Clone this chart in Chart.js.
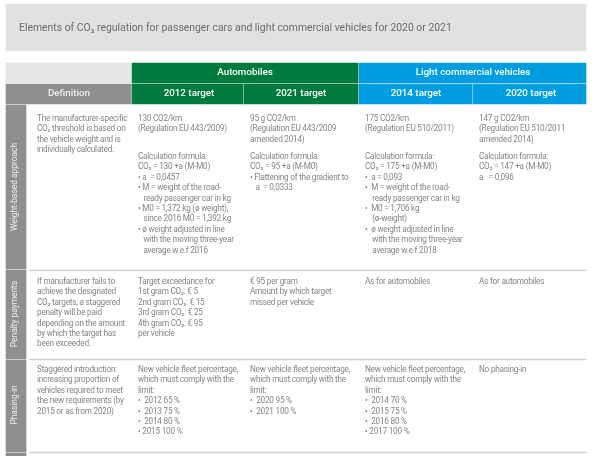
<!DOCTYPE html>
<html>
<head>
<meta charset="utf-8">
<title>Elements of CO2 regulation</title>
<script src="https://cdn.jsdelivr.net/npm/chart.js@4"></script>
<style>
    html, body { margin: 0; padding: 0; background: #fff; overflow: hidden; }
    #table { display: block; width: 600px; height: 456px; }
</style>
</head>
<body>
<canvas id="table" width="600" height="456"></canvas>
<script>
const title = 'Elements of CO₂ regulation for passenger cars and light commercial vehicles for 2020 or 2021';
const groups = ['Automobiles', 'Light commercial vehicles'];
const targets = ['2012 target', '2021 target', '2014 target', '2020 target'];
const firstHeader = 'Definition';
const rowLabels = ['Weight-based approach', 'Penalty payments', 'Phasing-in'];

const definitions = [
    ['The manufacturer-specific', 'CO₂ threshold is based on', 'the vehicle weight and is', 'individually calculated.'],
    ['If manufacturer fails to', 'achieve the designated', 'CO₂ targets, a staggered', 'penalty will be paid', 'depending on the amount', 'by which the target has', 'been exceeded.'],
    ['Staggered introduction:', 'increasing proportion of', 'vehicles required to meet', 'the new requirements (by', '2015 or as from 2020)']
];
const regulations = [
    ['130 CO2/km', '(Regulation EU 443/2009)'],
    ['95 g CO2/km', '(Regulation EU 443/2009', 'amended 2014)'],
    ['175 CO2/km', '(Regulation EU 510/2011)'],
    ['147 g CO2/km', '(Regulation EU 510/2011', 'amended 2014)']
];
const formulas = [
    ['Calculation formula:', 'CO₂ = 130 +a (M-M0)', '• a  = 0,0457', '• M = weight of the road-', '   ready passenger car in kg', '• M0 = 1,372 kg (ø weight),', '   since 2016 M0 = 1,392 kg', '• ø weight adjusted in line', '   with the moving three-year', '   average w.e.f 2016'],
    ['Calculation formula:', 'CO₂ = 95 +a (M-M0)', '• Flattening of the gradient to', '   a  = 0,0333'],
    ['Calculation formula:', 'CO₂ = 175 +a (M-M0)', '•  a = 0,093', '•  M = weight of the road-', '    ready passenger car in kg', '•  M0 = 1,706 kg', '    (ø-weight)', '•  ø weight adjusted in line', '    with the moving three-year', '    average w.e.f 2018'],
    ['Calculation formula:', 'CO₂ = 147 +a (M-M0)', 'a   = 0,096']
];
const penalties = [
    ['Target exceedance for', '1st gram CO₂: € 5', '2nd gram CO₂: € 15', '3rd gram CO₂: € 25', '4th gram CO₂: € 95', 'per vehicle'],
    ['€ 95 per gram', 'Amount by which target', 'missed per vehicle'],
    ['As for automobiles'],
    ['As for automobiles']
];
const phasing = [
    ['New vehicle fleet percentage,', 'which must comply with the', 'limit:', '•  2012 65 %', '•  2013 75 %', '•  2014 80 %', '• 2015 100 %'],
    ['New vehicle fleet percentage,', 'which must comply with the', 'limit:', '•  2020 95 %', '•  2021 100 %'],
    ['New vehicle fleet percentage,', 'which must comply with the', 'limit:', '•  2014 70 %', '•  2015 75 %', '•  2016 80 %', '• 2017 100 %'],
    ['No phasing-in']
];

const GREEN = '#007a3d', BLUE = '#009ee0', GREY = '#8f8f8f', PALE = '#e1e1e1', RULE = '#cfcfcf';
const FONT = 'Roboto, "Liberation Sans", sans-serif';
const columnX = [138, 250, 365, 479];
const lineStep = 10.4;

// rectangles of the layout: [left, right, top, bottom, colour]
const cells = [
    [6, 586, 4, 51, PALE],
    [6, 131, 63, 83, '#e6e6e6'],
    [132, 358, 63, 83, GREEN],
    [359, 586, 63, 83, BLUE],
    [6, 131, 84, 104, GREY],
    [132, 243, 84, 104, GREEN],
    [244, 358, 84, 104, GREEN],
    [359, 472, 84, 104, BLUE],
    [473, 586, 84, 104, BLUE],
    [6, 26, 105, 269, GREY],
    [6, 26, 270, 359, GREY],
    [6, 26, 360, 452, GREY],
    [6, 26, 453, 457, GREY],
    [30, 586, 270, 271, RULE],
    [30, 586, 359, 360, RULE],
    [30, 586, 452, 453, RULE]
];

const textPlugin = {
    id: 'tableText',
    afterDatasetsDraw(chart) {
        const { ctx, scales } = chart;
        const px = v => scales.x.getPixelForValue(v);
        const py = v => scales.y.getPixelForValue(v);

        function put(text, x, y, font, color, align, spacing) {
            ctx.font = font + ' ' + FONT;
            ctx.letterSpacing = spacing || '0px';
            ctx.fillStyle = color;
            ctx.textAlign = align || 'left';
            ctx.textBaseline = 'middle';
            ctx.fillText(text, px(x), py(y));
        }
        function block(lines, x, y) {
            lines.forEach((line, i) => put(line, x, y + i * lineStep, '8.2px', '#858585', 'left', '-0.22px'));
        }

        ctx.save();
        put(title, 19, 28, '10.4px', '#6b6b6b');

        const head = '500 9.8px';
        put(groups[0], 245, 73, head, '#ffffff', 'center');
        put(groups[1], 473, 73, head, '#ffffff', 'center');
        put(firstHeader, 69, 94, head, '#eeeeee', 'center');
        [189, 301, 416, 531].forEach((x, i) => put(targets[i], x, 94, head, '#ffffff', 'center'));

        [187, 314, 405].forEach((y, i) => {
            ctx.save();
            ctx.translate(px(15), py(y));
            ctx.rotate(-Math.PI / 2);
            ctx.font = '8.4px ' + FONT;
            ctx.letterSpacing = '0px';
            ctx.fillStyle = '#eeeeee';
            ctx.textAlign = 'center';
            ctx.textBaseline = 'middle';
            ctx.fillText(rowLabels[i], 0, 0);
            ctx.restore();
        });

        [119, 282, 370].forEach((y, i) => block(definitions[i], 37, y));
        columnX.forEach((x, i) => {
            block(regulations[i], x, 119);
            block(formulas[i], x, 157);
            block(penalties[i], x, 282);
            block(phasing[i], x, 370);
        });
        ctx.restore();
    }
};

new Chart(document.getElementById('table').getContext('2d'), {
    type: 'bar',
    data: {
        datasets: cells.map(c => ({
            data: [{ x: [c[0], c[1]], y: (c[2] + c[3]) / 2 }],
            backgroundColor: c[4],
            barThickness: c[3] - c[2],
            grouped: false
        }))
    },
    options: {
        indexAxis: 'y',
        responsive: false,
        animation: false,
        layout: { padding: 0 },
        scales: {
            x: { type: 'linear', min: 0, max: 600, display: false },
            y: { type: 'linear', min: 0, max: 456, reverse: true, offset: false, display: false }
        },
        plugins: {
            legend: { display: false },
            tooltip: { enabled: false }
        }
    },
    plugins: [textPlugin]
});
</script>
</body>
</html>
